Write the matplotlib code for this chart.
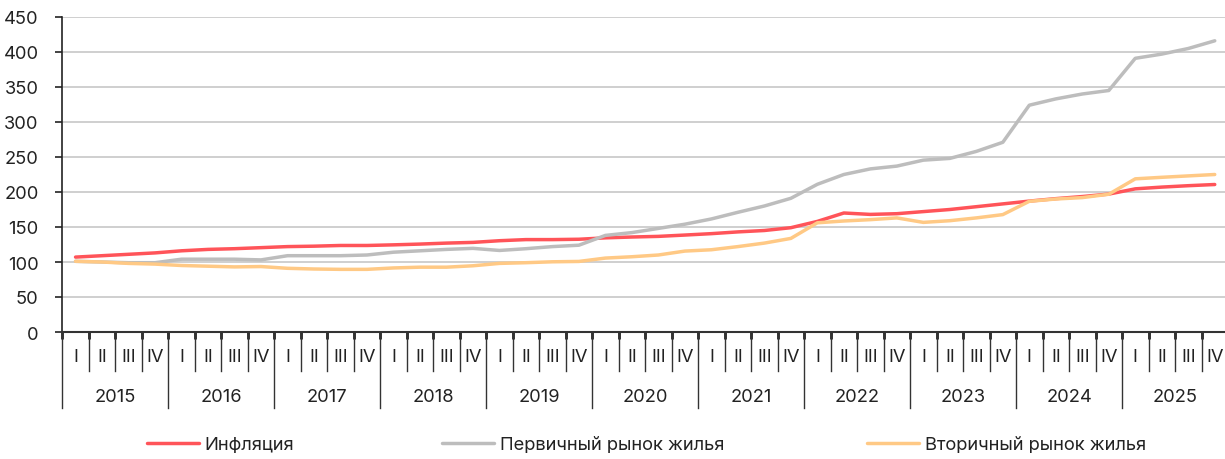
import matplotlib
matplotlib.use("Agg")
import matplotlib.pyplot as plt
import matplotlib.transforms as mtransforms
from matplotlib.lines import Line2D

years = [str(y) for y in range(2015, 2026)]
quarters = ["I", "II", "III", "IV"]

inflation = [107, 109, 111, 113, 116, 118, 119, 120.5, 122, 122.6, 123.6, 123.6,
             124.5, 125.6, 127, 128, 130.4, 132, 132, 132.5, 134.5, 135.7, 136.6, 138.5,
             140.5, 143, 145, 149, 158, 170, 168, 169, 172, 175, 179, 183,
             187, 190.5, 193.5, 197, 204.5, 207, 209, 210.7]
primary = [101, 100, 99, 99, 104, 104, 104, 103, 109, 109, 109, 110,
           114, 116, 118, 119.5, 116.5, 119, 122, 124, 138, 142, 148, 154,
           161.5, 171, 180, 191, 211, 225, 233, 237, 245.5, 248, 258, 271,
           324, 333, 340, 345, 391, 397, 405, 416]
secondary = [101, 100, 98, 97, 95, 94, 93, 93.5, 91, 90, 89.5, 89.5,
             91.5, 92.6, 92.6, 94.6, 98, 99, 100.3, 100.8, 105.6, 107.5, 110, 115.6,
             117.5, 122, 127, 133.7, 156, 158.6, 160.5, 163, 156.6, 159, 163, 167.7,
             186.7, 190, 192, 196.8, 218.8, 221, 223, 225]
series_names = ["Инфляция", "Первичный рынок жилья", "Вторичный рынок жилья"]
series_colors = ["#ff5459", "#bdbdbd", "#ffc985"]
yticks = list(range(0, 451, 50))

FONT = "Inter"
FS = 13.2
plt.rcParams["font.family"] = [FONT, "DejaVu Sans"]

W, H = 1225, 460
fig = plt.figure(figsize=(W / 100, H / 100), dpi=100)
ax_left, ax_right, ax_top, ax_bottom = 62.3, 1228, 18, 333
ax = fig.add_axes([ax_left / W, 1 - ax_bottom / H, (ax_right - ax_left) / W, (ax_bottom - ax_top) / H])

n = len(inflation)
x = list(range(n))
for vals, name, col in zip([inflation, primary, secondary], series_names, series_colors):
    ax.plot(x, vals, color=col, lw=2.5, solid_capstyle="round", label=name, zorder=3)

ax.set_xlim(-0.5, n - 0.5)
ax.set_ylim(0, 450)
ax.set_yticks(yticks)
ax.set_yticklabels([str(v) for v in yticks])
ax.yaxis.grid(True, color="#cccccc", lw=1.3)
ax.set_axisbelow(True)
for s in ["top", "right"]:
    ax.spines[s].set_visible(False)
ax.spines["left"].set_color("#222222")
ax.spines["left"].set_linewidth(1.2)
ax.spines["bottom"].set_color("#333333")
ax.spines["bottom"].set_linewidth(1.5)
ax.tick_params(axis="y", length=5, width=1.2, color="#222222", pad=12, labelsize=FS, labelcolor="#222222")
ax.set_xticks([i - 0.5 for i in range(n + 1)])
ax.set_xticklabels([])
ax.tick_params(axis="x", length=5, width=2, color="#222222", direction="out")

axh = ax_bottom - ax_top
trans = mtransforms.blended_transform_factory(ax.transData, ax.transAxes)
q_bot = -(372 - ax_bottom) / axh
y_bot = -(409 - ax_bottom) / axh
q_lab = -(358 - ax_bottom) / axh
y_lab = -(397 - ax_bottom) / axh
for i in range(n + 1):
    is_year = (i % 4 == 0)
    ax.add_line(Line2D([i - 0.5, i - 0.5], [0, y_bot if is_year else q_bot], transform=trans,
                       color="#333333", lw=1.0, clip_on=False))
for i in range(n):
    ax.text(i, q_lab, quarters[i % 4], transform=trans, ha="center", va="center",
            fontsize=FS, color="#222222")
for k, yr in enumerate(years):
    ax.text(4 * k + 1.5, y_lab, yr, transform=trans, ha="center", va="center",
            fontsize=FS, color="#222222")

handles = ax.get_lines()
leg_x = [147, 442, 867]
for h, lx in zip(handles, leg_x):
    lg = fig.legend([h], [h.get_label()], loc="center left",
                    bbox_to_anchor=(lx / W, 1 - 446 / H), frameon=False,
                    borderpad=0, borderaxespad=0, handlelength=2.85, handletextpad=0.3,
                    fontsize=FS)
    for t in lg.get_texts():
        t.set_color("#222222")

fig.savefig("out.png", dpi=100)
